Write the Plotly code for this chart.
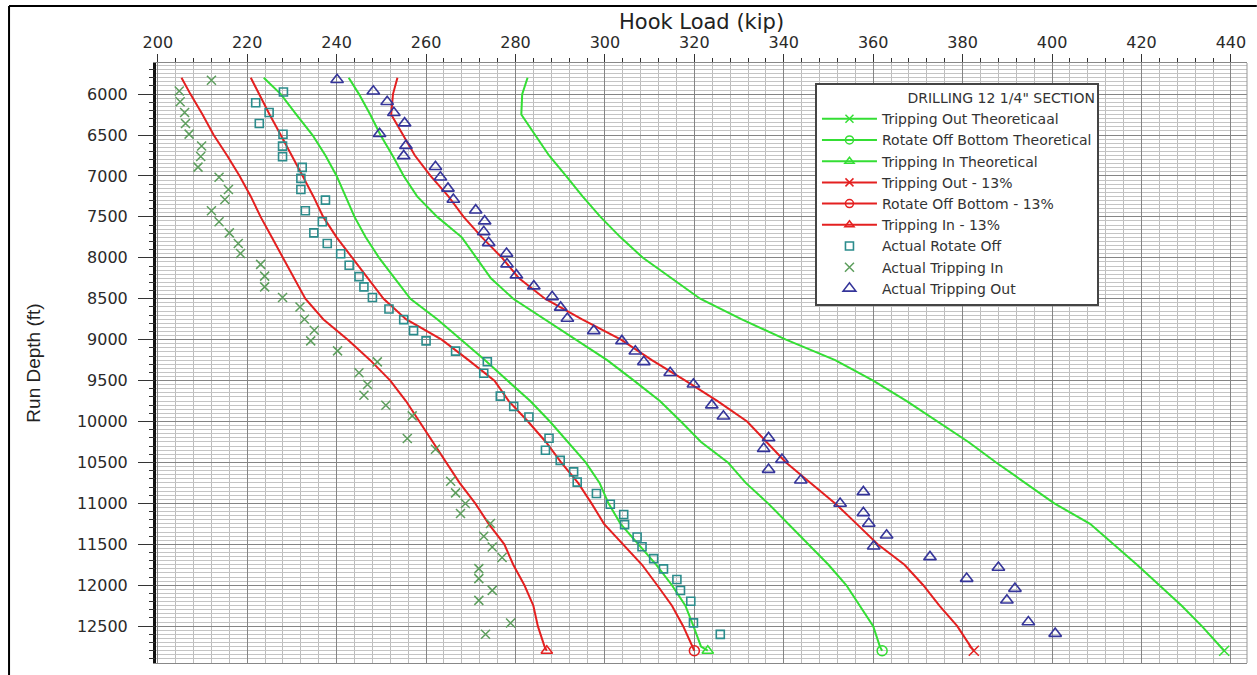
import plotly.graph_objects as go

# ---------------- data ----------------
depth_curve = [5800, 6000, 6250, 6500, 6750, 7000, 7250, 7500, 7750, 8000,
               8250, 8500, 8750, 9000, 9250, 9500, 9750, 10000, 10250, 10500,
               10750, 11000, 11250, 11500, 11750, 12000, 12250, 12500, 12750, 12800]

trip_out_theo = [282.7, 281.5, 281.3, 284.5, 287.5, 291.3, 295.0, 299.0, 303.5, 308.5,
                 315.0, 321.3, 330.5, 340.5, 351.5, 360.0, 367.5, 374.5, 381.3, 387.5,
                 394.0, 400.5, 408.5, 413.8, 419.0, 424.0, 429.0, 433.5, 437.5, 438.5]
rot_off_theo = [242.7, 245.0, 247.5, 249.8, 252.5, 255.0, 258.0, 262.5, 268.0, 271.3,
                274.5, 279.5, 286.5, 293.8, 300.5, 306.5, 312.3, 317.0, 321.5, 327.5,
                331.5, 336.5, 341.0, 345.5, 350.0, 354.0, 357.0, 360.0, 361.5, 362.0]
trip_in_theo = [223.7, 227.5, 231.0, 234.6, 237.5, 240.0, 242.0, 244.0, 246.5, 249.5,
                253.0, 256.5, 262.5, 267.8, 273.2, 278.2, 283.3, 287.7, 291.8, 295.7,
                298.8, 300.8, 303.5, 307.5, 311.5, 315.0, 318.0, 319.8, 321.5, 323.0]
trip_out_13 = [253.6, 252.6, 252.2, 254.8, 257.5, 261.0, 265.0, 268.4, 272.5, 277.0,
               280.8, 286.6, 294.8, 303.6, 310.5, 318.0, 325.2, 331.8, 336.1, 340.5,
               346.0, 351.5, 356.3, 361.0, 367.0, 371.2, 374.8, 378.8, 381.8, 382.5]
rot_off_13 = [220.8, 222.6, 225.0, 227.5, 230.0, 232.4, 234.8, 237.0, 240.0, 243.5,
              247.0, 250.5, 255.5, 263.5, 269.5, 275.3, 278.5, 282.8, 286.8, 290.2,
              294.0, 297.0, 299.8, 304.0, 308.3, 311.7, 315.0, 317.5, 319.5, 320.0]
trip_in_13 = [205.3, 207.3, 210.0, 212.5, 215.5, 218.3, 220.8, 223.0, 225.5, 228.0,
              230.5, 233.0, 237.0, 242.5, 247.5, 252.0, 255.5, 258.5, 261.5, 264.5,
              267.5, 271.0, 274.0, 277.5, 279.5, 282.0, 284.0, 285.0, 286.5, 287.0]

act_rot_depth = [5975, 6105, 6225, 6360, 6490, 6635, 6765, 6895, 7030, 7165,
                 7295, 7425, 7560, 7695, 7825, 7950, 8090, 8230, 8355, 8485,
                 8625, 8755, 8890, 9015, 9140, 9270, 9410, 9690, 9815, 9945,
                 10205, 10350, 10475, 10615, 10740, 10880, 11010, 11135, 11260, 11410,
                 11530, 11675, 11800, 11930, 12065, 12195, 12460, 12600]
act_rot_load = [228.1, 221.9, 224.9, 222.7, 228.0, 227.9, 227.9, 232.3, 232.0, 232.0,
                237.5, 233.0, 236.8, 234.9, 237.9, 240.9, 242.8, 245.0, 246.1, 248.0,
                251.7, 255.0, 257.2, 260.0, 266.6, 273.7, 272.9, 276.6, 279.6, 283.0,
                287.5, 286.7, 290.0, 293.0, 293.8, 298.1, 301.2, 304.2, 304.4, 307.2,
                308.3, 310.9, 313.1, 316.1, 316.9, 319.2, 319.8, 325.8]

act_tin_depth = [5830, 5962, 6094, 6224, 6358, 6489, 6635, 6762, 6892, 7015,
                 7165, 7287, 7426, 7560, 7695, 7824, 7947, 8080, 8224, 8355,
                 8485, 8602, 8750, 8884, 9015, 9137, 9271, 9405, 9548, 9678,
                 9800, 9931, 10207, 10338, 10730, 10872, 11001, 11124, 11246, 11401,
                 11532, 11662, 11797, 11919, 12063, 12185, 12462, 12599]
act_tin_load = [212.0, 204.8, 205.0, 206.0, 206.2, 207.0, 209.8, 209.6, 209.0, 213.7,
                215.8, 215.0, 212.0, 213.7, 216.0, 218.0, 218.5, 223.0, 223.9, 223.9,
                227.9, 231.8, 232.8, 235.0, 234.2, 240.2, 249.1, 245.0, 246.9, 246.1,
                251.0, 256.9, 255.8, 262.1, 265.5, 266.6, 268.8, 267.7, 274.4, 272.9,
                274.8, 277.0, 271.8, 271.8, 274.8, 271.8, 278.9, 273.3]

act_tout_depth = [5825, 5965, 6094, 6228, 6355, 6485, 6630, 6755, 6888, 7015,
                  7152, 7287, 7418, 7552, 7683, 7817, 7947, 8077, 8212, 8346,
                  8477, 8606, 8741, 8892, 9015, 9141, 9271, 9405, 9544, 9800,
                  9935, 10200, 10331, 10465, 10587, 10717, 10860, 11002, 11116, 11246,
                  11389, 11524, 11654, 11784, 11919, 12041, 12183, 12449, 12591]
act_tout_load = [240.1, 248.2, 251.3, 252.8, 255.2, 249.6, 255.5, 255.0, 262.1, 263.2,
                 264.9, 266.1, 271.1, 273.1, 272.9, 274.0, 278.0, 278.1, 280.2, 284.1,
                 288.2, 290.1, 291.6, 297.5, 303.8, 306.8, 308.7, 314.6, 319.8, 323.9,
                 326.5, 336.6, 335.5, 339.6, 336.6, 343.8, 357.8, 352.6, 357.8, 359.0,
                 363.0, 360.1, 372.7, 388.0, 380.9, 391.7, 389.9, 394.7, 400.7]

curve_names = ["Tripping Out Theoreticaal", "Rotate Off Bottom Theoretical",
               "Tripping In Theoretical", "Tripping Out - 13%",
               "Rotate Off Bottom - 13%", "Tripping In - 13%"]
curve_values = [trip_out_theo, rot_off_theo, trip_in_theo,
                trip_out_13, rot_off_13, trip_in_13]

# ---------------- styles ----------------
GREEN = "#34de34"
RED = "#e42020"
curve_colors = [GREEN, GREEN, GREEN, RED, RED, RED]
curve_symbols = ["x-thin-open", "circle-open", "triangle-up-open",
                 "x-thin-open", "circle-open", "triangle-up-open"]
TXT = "DejaVu Sans"

fig = go.Figure()

# theoretical / -13% curves with a marker at the final point
for name, vals, col, sym in zip(curve_names, curve_values, curve_colors, curve_symbols):
    fig.add_trace(go.Scatter(x=vals, y=depth_curve, mode="lines",
                             line=dict(color=col, width=2),
                             showlegend=False, hoverinfo="skip"))
    fig.add_trace(go.Scatter(x=[vals[-1]], y=[depth_curve[-1]], mode="markers",
                             marker=dict(symbol=sym, size=10, color=col,
                                         line=dict(color=col, width=1.5)),
                             showlegend=False, hoverinfo="skip"))

# legend entries for the curves (no data of their own); they live on the
# overlay axis that carries the 100 ft minor ticks
for name, col, sym in zip(curve_names, curve_colors, curve_symbols):
    fig.add_trace(go.Scatter(x=[None], y=[None], mode="lines+markers", name=name,
                             line=dict(color=col, width=2),
                             marker=dict(symbol=sym, size=8, color=col,
                                         line=dict(color=col, width=1.5)),
                             yaxis="y2"))

# actual measurements
fig.add_trace(go.Scatter(x=act_rot_load, y=act_rot_depth, mode="markers",
                         name="Actual Rotate Off",
                         marker=dict(symbol="square-open", size=8, color="#2b8c8c",
                                     line=dict(color="#2b8c8c", width=1.6))))
fig.add_trace(go.Scatter(x=act_tin_load, y=act_tin_depth, mode="markers",
                         name="Actual Tripping In",
                         marker=dict(symbol="x-thin-open", size=9, color="#5d9e5d",
                                     line=dict(color="#5d9e5d", width=1.5))))
fig.add_trace(go.Scatter(x=act_tout_load, y=act_tout_depth, mode="markers",
                         name="Actual Tripping Out",
                         marker=dict(symbol="triangle-up-open", size=11, color="#35359a",
                                     line=dict(color="#35359a", width=1.6))))

Y_RANGE = [12950, 5620]

fig.update_layout(
    width=1257, height=675,
    margin=dict(l=156, r=10, t=63, b=12),
    paper_bgcolor="white", plot_bgcolor="white",
    font=dict(family=TXT, color="#222"),
    xaxis=dict(
        range=[199.6, 443.6], side="top", tick0=200, dtick=20,
        ticks="outside", ticklen=8, tickwidth=1, tickcolor="#333",
        showline=True, linecolor="#888", linewidth=1, mirror=True,
        showgrid=True, gridcolor="#858585", gridwidth=1, zeroline=False,
        minor=dict(dtick=4, ticks="outside", ticklen=4, tickcolor="#333",
                   showgrid=True, gridcolor="#bcbcbc", gridwidth=1),
        tickfont=dict(family=TXT, size=16, color="#2a2a2a"),
        automargin=False,
    ),
    yaxis=dict(
        range=Y_RANGE, tick0=0, dtick=500, tickformat="d",
        ticks="outside", ticklen=15, tickwidth=1, tickcolor="#333",
        showline=True, linecolor="#111", linewidth=3,
        showgrid=True, gridcolor="#858585", gridwidth=1, zeroline=False,
        minor=dict(dtick=50, ticks="", showgrid=True, gridcolor="#c4c4c4", gridwidth=1),
        tickfont=dict(family=TXT, size=16, color="#2a2a2a"),
        ticklabelstandoff=7,
        title=dict(text="Run Depth (ft)", standoff=32,
                   font=dict(family="Liberation Sans", size=19, color="#222")),
        automargin=False,
    ),
    yaxis2=dict(
        range=Y_RANGE, overlaying="y", side="left", anchor="x",
        tick0=0, dtick=100, ticks="outside", ticklen=6, tickwidth=1, tickcolor="#333",
        showticklabels=False, showgrid=False, zeroline=False, showline=False,
        automargin=False,
    ),
    legend=dict(
        x=0.604, y=0.9667, xanchor="left", yanchor="top",
        bgcolor="white", bordercolor="#444", borderwidth=2,
        font=dict(family=TXT, size=14, color="#333"),
        itemwidth=55, tracegroupgap=0,
        title=dict(text='DRILLING 12 1/4" SECTION', side="top right",
                   font=dict(family=TXT, size=14, color="#333")),
    ),
    annotations=[dict(text="Hook Load (kip)", xref="paper", yref="paper",
                      x=0.5, y=1.068, xanchor="center", yanchor="middle",
                      showarrow=False,
                      font=dict(family=TXT, size=21, color="#222"))],
    shapes=[
        # outer frame of the picture (left and top edges)
        dict(type="line", xref="paper", yref="paper",
             x0=-0.1347, x1=-0.1347, y0=-0.05, y1=1.095,
             line=dict(color="black", width=2), layer="above"),
        dict(type="line", xref="paper", yref="paper",
             x0=-0.1347, x1=1.009, y0=1.095, y1=1.095,
             line=dict(color="black", width=2), layer="above"),
        # right edge of the plotting frame
        dict(type="line", xref="paper", yref="paper",
             x0=1, x1=1, y0=0, y1=1,
             line=dict(color="#999", width=1), layer="above"),
    ],
)

fig.write_html("out.html")
